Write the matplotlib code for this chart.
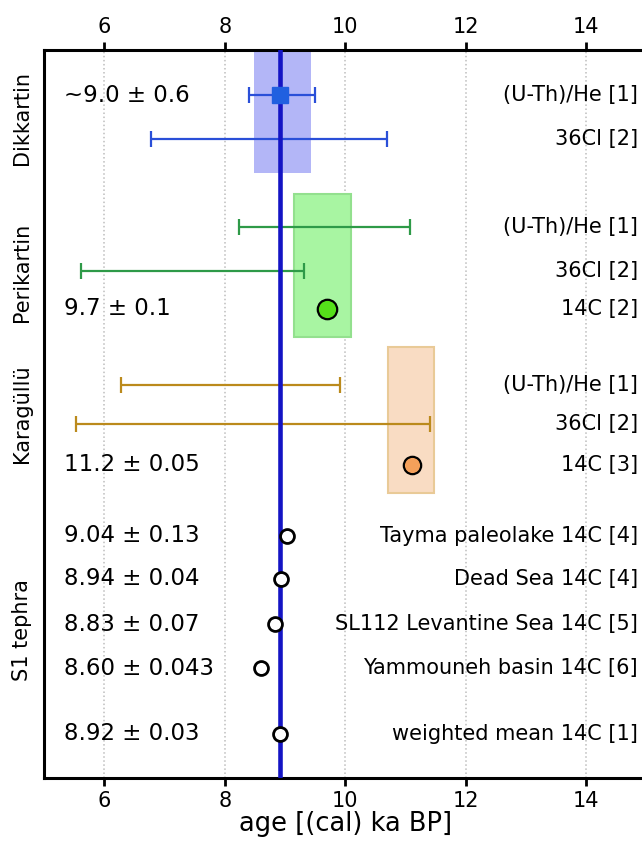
import matplotlib.pyplot as plt
from matplotlib.patches import Rectangle

# row layout (top to bottom, y axis inverted)
row_y = [1.05, 2.08, 4.12, 5.15, 6.02, 7.78, 8.7, 9.65, 11.3, 12.3, 13.35, 14.38, 15.9]
method_labels = ["(U-Th)/He [1]", "36Cl [2]",
                 "(U-Th)/He [1]", "36Cl [2]", "14C [2]",
                 "(U-Th)/He [1]", "36Cl [2]", "14C [3]",
                 "Tayma paleolake 14C [4]", "Dead Sea 14C [4]",
                 "SL112 Levantine Sea 14C [5]", "Yammouneh basin 14C [6]",
                 "weighted mean 14C [1]"]

# age ranges (ka BP) drawn as capped bars
range_rows = [0, 1, 2, 3, 5, 6]
range_lo = [8.40, 6.78, 8.24, 5.62, 6.28, 5.53]
range_hi = [9.50, 10.69, 11.07, 9.32, 9.91, 11.40]
range_colors = ["#2a4fd8", "#2a4fd8", "#2e9a48", "#2e9a48", "#bb8a1c", "#bb8a1c"]

# shaded age windows per site
box_lo = [8.48, 9.15, 10.71]
box_hi = [9.43, 10.09, 11.47]
box_top = [0.0, 3.35, 6.9]
box_bottom = [2.86, 6.67, 10.3]
box_face = ["#b3b6f7", "#a8f5a2", "#f9dcc3"]
box_edge = ["none", "#93e08e", "#e9ca97"]

# 14C / point ages
s1_rows = [8, 9, 10, 11, 12]
s1_ages = [9.04, 8.94, 8.83, 8.60, 8.92]
dik_age = 8.92
peri_age = 9.7
kara_age = 11.1
mean_age = 8.92

value_rows = [0, 4, 7, 8, 9, 10, 11, 12]
value_labels = ["~9.0 ± 0.6", "9.7 ± 0.1", "11.2 ± 0.05", "9.04 ± 0.13",
                "8.94 ± 0.04", "8.83 ± 0.07", "8.60 ± 0.043", "8.92 ± 0.03"]

groups = ["Dikkartin", "Perikartin", "Karagüllü", "S1 tephra"]
group_y = [1.58, 5.16, 8.45, 13.5]

fig = plt.figure(figsize=(6.42, 8.43), dpi=100)
ax = fig.add_axes([0.0685, 0.0771, 0.9385, 0.8636])
ax.set_xlim(5, 15)
ax.set_ylim(16.93, 0)

for lo, hi, top, bot, fc, ec in zip(box_lo, box_hi, box_top, box_bottom, box_face, box_edge):
    ax.add_patch(Rectangle((lo, top), hi - lo, bot - top, facecolor=fc,
                           edgecolor=ec, lw=1.5, zorder=1))

for r, lo, hi, c in zip(range_rows, range_lo, range_hi, range_colors):
    mid = (lo + hi) / 2
    ax.errorbar(mid, row_y[r], xerr=(hi - lo) / 2, fmt="none", ecolor=c,
                elinewidth=1.6, capsize=5.5, capthick=1.6, zorder=3)

ax.axvline(mean_age, color="#1414c4", lw=3.3, zorder=4)

ax.plot(dik_age, row_y[0], "s", ms=11, color="#2060e0", zorder=5)
ax.plot(peri_age, row_y[4], "o", ms=14, mfc="#55e01a", mec="black", mew=1.6, zorder=5)
ax.plot(kara_age, row_y[7], "o", ms=12.5, mfc="#f5a05a", mec="black", mew=1.6, zorder=5)
ax.plot(s1_ages, [row_y[r] for r in s1_rows], "o", ms=10, mfc="white",
        mec="black", mew=2, zorder=5, ls="none")

for r, t in zip(value_rows, value_labels):
    ax.text(5.33, row_y[r], t, fontsize=16.5, va="center", ha="left")

for y, t in zip(row_y, method_labels):
    ax.text(14.86, y, t, fontsize=15, va="center", ha="right")

for y, g in zip(group_y, groups):
    ax.text(-0.036, y, g, transform=ax.get_yaxis_transform(), rotation=90,
            fontsize=15, va="center", ha="center")

ax.set_yticks([])
ax.set_xticks([6, 8, 10, 12, 14])
ax.tick_params(axis="x", top=True, labeltop=True, direction="out",
               length=6, width=2, labelsize=15, pad=3)
ax.grid(axis="x", ls=":", color="#bdbdbd", lw=1.1)
ax.set_axisbelow(True)
for s in ax.spines.values():
    s.set_linewidth(2.2)
ax.set_xlabel("age [(cal) ka BP]", fontsize=18.5, labelpad=0)

fig.savefig("out.png", dpi=100)
